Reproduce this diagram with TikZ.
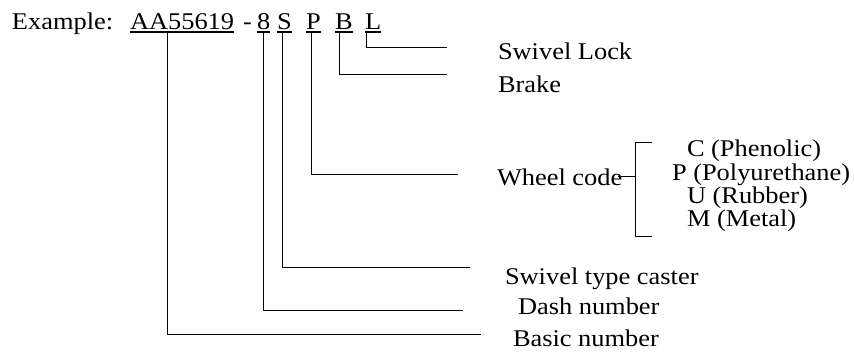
\documentclass[tikz,border=0pt]{standalone}
\usepackage{fontspec}
\setmainfont{Liberation Serif}[FakeStretch=1.1]
\begin{document}
\begin{tikzpicture}[x=1pt,y=-1pt,
  lbl/.style={inner sep=0pt, outer sep=0pt, anchor=base west,
              font=\fontsize{24}{24}\selectfont},
  conn/.style={line width=0.9pt, black},
  uline/.style={line width=1.1pt, black}]
\useasboundingbox (0,0) rectangle (854,352);

% part number, one node per field
\node[lbl] (ex)  at (12,30)  {Example:};
\node[lbl] (aa)  at (130,30) {AA55619};
\node[lbl] (hy)  at (243,30) {-};
\node[lbl] (dg)  at (257,30) {8};
\node[lbl] (sv)  at (277,30) {S};
\node[lbl] (wh)  at (306,30) {P};
\node[lbl] (bk)  at (335,30) {B};
\node[lbl] (lk)  at (365,30) {L};

% underlines of the fields
\foreach \t in {aa,dg,sv,wh,bk,lk}
  \draw[uline] ([yshift=-2pt]\t.base west) -- ([yshift=-2pt]\t.base east);

% field descriptions
\node[lbl] (lockLbl)   at (498,60)  {Swivel Lock};
\node[lbl] (brakeLbl)  at (498,93)  {Brake};
\node[lbl] (wheelLbl)  at (497,186) {Wheel code};
\node[lbl] (cLbl)      at (687,157) {C (Phenolic)};
\node[lbl] (pLbl)      at (672,181) {P (Polyurethane)};
\node[lbl] (uLbl)      at (687,204) {U (Rubber)};
\node[lbl] (mLbl)      at (687,227) {M (Metal)};
\node[lbl] (swivelLbl) at (505,285) {Swivel type caster};
\node[lbl] (dashLbl)   at (518,315) {Dash number};
\node[lbl] (basicLbl)  at (513,347) {Basic number};

% ends of the leader lines
\coordinate (eLock)   at (447,47);
\coordinate (eBrake)  at (447,74);
\coordinate (eWheel)  at (458,174);
\coordinate (eSwivel) at (470,267);
\coordinate (eDash)   at (463,310);
\coordinate (eBasic)  at (481,334);

% leader lines
\draw[conn] ([xshift=1pt,yshift=-2pt]lk.base west) |- (eLock);
\draw[conn] ([xshift=4pt,yshift=-2pt]bk.base west) |- (eBrake);
\draw[conn] ([xshift=5pt,yshift=-2pt]wh.base west) |- (eWheel);
\draw[conn] ([xshift=5pt,yshift=-2pt]sv.base west) |- (eSwivel);
\draw[conn] ([xshift=6pt,yshift=-2pt]dg.base west) |- (eDash);
\draw[conn] ([xshift=37pt,yshift=-2pt]aa.base west) |- (eBasic);

% bracket of the wheel codes
\coordinate (brTop) at (652,142);
\coordinate (brBot) at (652,236);
\coordinate (brMid) at (635,176);
\draw[conn] (brTop) -- (brTop -| brMid) -- (brBot -| brMid) -- (brBot);
\draw[conn] ([xshift=-4pt]wheelLbl.east |- brMid) -- (brMid);
\end{tikzpicture}
\end{document}
